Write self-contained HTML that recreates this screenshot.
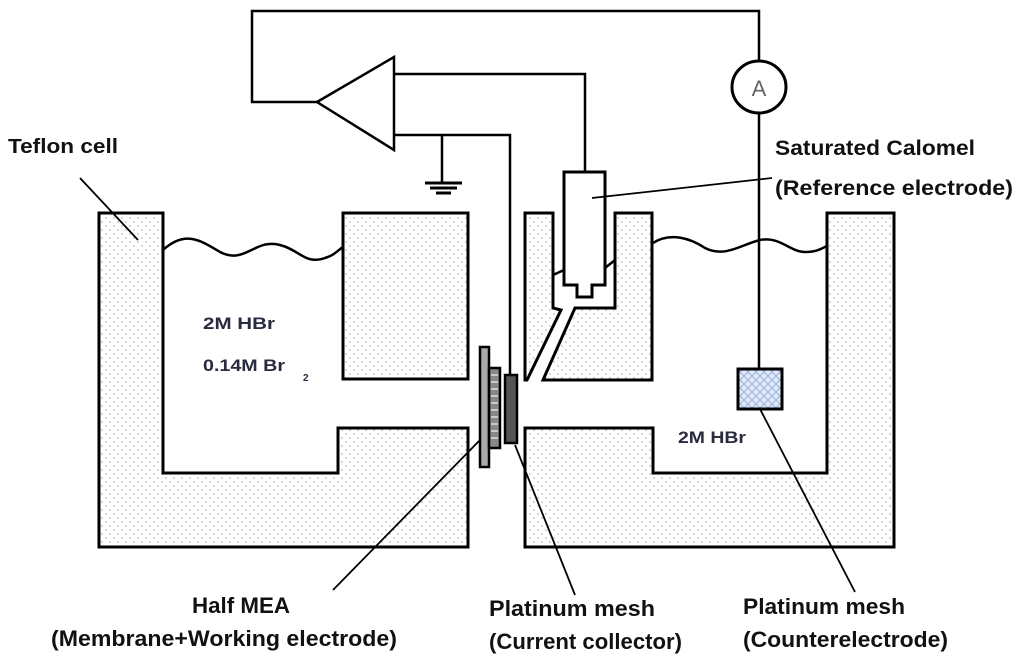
<!DOCTYPE html>
<html><head><meta charset="utf-8"><style>
html,body{margin:0;padding:0;background:#fff;}
svg{display:block;}
text{font-family:"Liberation Sans",sans-serif;font-weight:bold;fill:#111;}
</style></head><body>
<svg width="1024" height="669" viewBox="0 0 1024 669" xmlns="http://www.w3.org/2000/svg">
<defs>
<pattern id="dots" width="8" height="8" patternUnits="userSpaceOnUse">
<rect width="8" height="8" fill="#fff"/>
<circle cx="2" cy="2" r="0.9" fill="#bbb"/>
<circle cx="6" cy="6" r="0.9" fill="#bbb"/>
</pattern>
<pattern id="hatch" width="8" height="8" patternUnits="userSpaceOnUse">
<rect width="8" height="8" fill="#dfe8f6"/>
<path d="M0 0L8 8M8 0L0 8" stroke="#9db4dc" stroke-width="1"/>
</pattern>
</defs>
<g stroke="#000" stroke-width="3" fill="url(#dots)" stroke-linejoin="miter">
<path d="M99 213H163V473H338V428H468V547H99Z"/>
<rect x="343" y="213" width="125" height="166"/>
<path d="M525 428H653V473H827V213H894V547H525Z"/>
<path d="M525 213H553V308L561 310L527 380H525Z"/>
<path d="M575 308H615V213H652V380H543Z"/>
</g>
<g stroke="#000" stroke-width="2.5" fill="none">
<path d="M163 250C185 230 200 240 220 252C245 265 255 238 280 245C300 250 305 265 325 258C335 255 338 250 343 247"/>
<path d="M653 243C670 232 690 238 705 248C725 258 740 245 760 240C780 236 790 252 805 252C818 252 822 248 827 246"/>
<path d="M553 275L564 270M605 268L615 260"/>
<path d="M759 60V11H252V102H317"/>
<path d="M317 102L394 57V150Z"/>
<path d="M394 74H585V172"/>
<path d="M394 135H510V375"/>
<path d="M442 135V183"/>
<path d="M759 114V369"/>
</g>
<path d="M425 183H462M430 188H457M436 193H451" stroke="#000" stroke-width="3"/>
<ellipse cx="759" cy="87" rx="27" ry="26" fill="#fff" stroke="#000" stroke-width="3"/>
<text x="759" y="96" font-size="22" text-anchor="middle" style="font-weight:normal;fill:#666">A</text>
<path d="M564 172H605V285H592V297H577V285H564Z" fill="#fff" stroke="#000" stroke-width="3"/>
<rect x="480" y="347" width="9" height="120" fill="#aaa" stroke="#000" stroke-width="2.5"/>
<rect x="489" y="368" width="11" height="80" fill="#888" stroke="#000" stroke-width="2.5"/>
<path d="M491 375h7M491 382h7M491 389h7M491 396h7M491 403h7M491 410h7M491 417h7M491 424h7M491 431h7M491 438h7" stroke="#ddd" stroke-width="1.5"/>
<rect x="505" y="375" width="12" height="68" fill="#555" stroke="#000" stroke-width="2.5"/>
<rect x="738" y="369" width="44" height="40" fill="url(#hatch)" stroke="#000" stroke-width="3"/>
<g stroke="#000" stroke-width="1.8" fill="none">
<path d="M80 178L138 240"/>
<path d="M592 198L772 178"/>
<path d="M480 440L333 590"/>
<path d="M515 445L575 595"/>
<path d="M760 409L855 592"/>
</g>
<text x="8" y="153" font-size="20" textLength="110" lengthAdjust="spacingAndGlyphs">Teflon cell</text>
<text x="775" y="155" font-size="21" textLength="200" lengthAdjust="spacingAndGlyphs">Saturated Calomel</text>
<text x="775" y="195" font-size="21" textLength="238" lengthAdjust="spacingAndGlyphs">(Reference electrode)</text>
<text x="203" y="329" font-size="17" textLength="72" lengthAdjust="spacingAndGlyphs" style="fill:#2a2a40">2M HBr</text>
<text x="203" y="371" font-size="17" textLength="82" lengthAdjust="spacingAndGlyphs" style="fill:#2a2a40">0.14M Br</text>
<text x="303" y="381" font-size="10" style="fill:#2a2a40">2</text>
<text x="678" y="443" font-size="17" textLength="68" lengthAdjust="spacingAndGlyphs" style="fill:#2a2a40">2M HBr</text>
<text x="192" y="613" font-size="22" textLength="98" lengthAdjust="spacingAndGlyphs">Half MEA</text>
<text x="51" y="646" font-size="22" textLength="346" lengthAdjust="spacingAndGlyphs">(Membrane+Working electrode)</text>
<text x="489" y="616" font-size="22" textLength="166" lengthAdjust="spacingAndGlyphs">Platinum mesh</text>
<text x="489" y="649" font-size="22" textLength="193" lengthAdjust="spacingAndGlyphs">(Current collector)</text>
<text x="743" y="614" font-size="22" textLength="162" lengthAdjust="spacingAndGlyphs">Platinum mesh</text>
<text x="743" y="647" font-size="22" textLength="205" lengthAdjust="spacingAndGlyphs">(Counterelectrode)</text>
</svg>
</body></html>
